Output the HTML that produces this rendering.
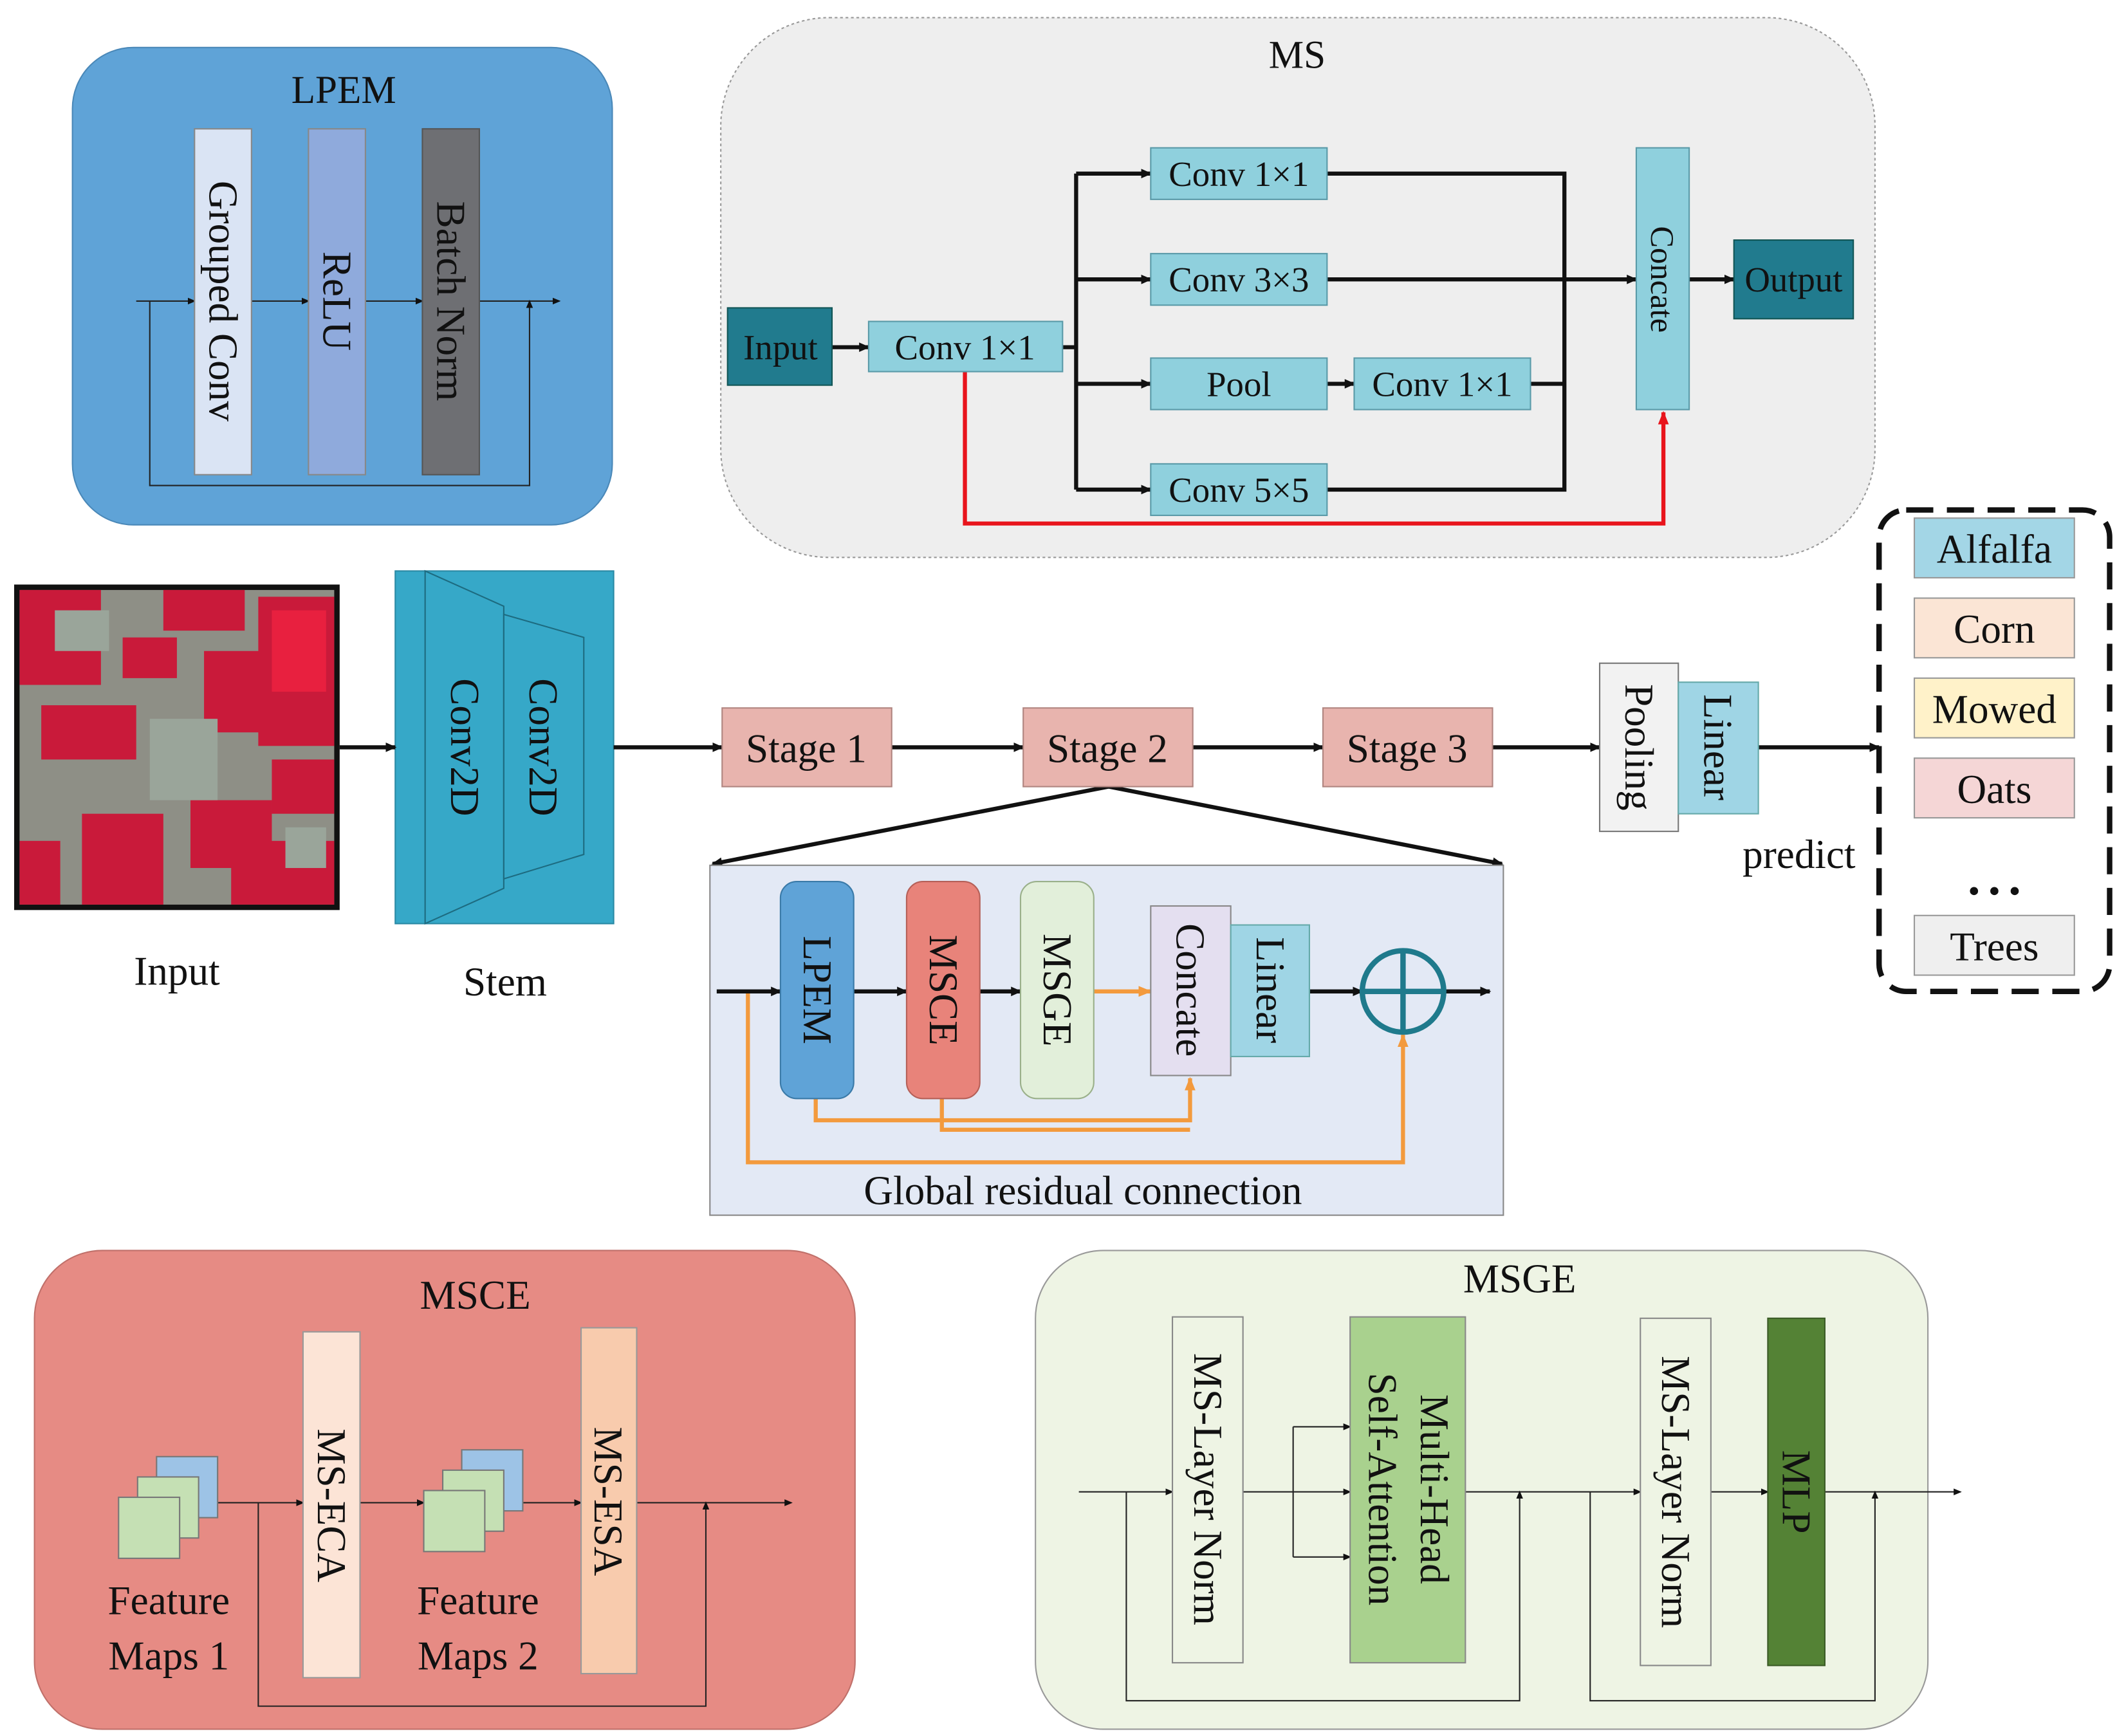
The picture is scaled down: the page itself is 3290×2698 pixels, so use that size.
<!DOCTYPE html>
<html><head><meta charset="utf-8"><style>
html,body{margin:0;padding:0;background:#fff}
svg{display:block}
text{font-family:"Liberation Serif",serif;fill:#111}
</style></head><body>
<svg width="3290" height="2698" viewBox="0 0 1560 1280" xmlns="http://www.w3.org/2000/svg">
<defs>
<marker id="a" markerWidth="8" markerHeight="8" refX="7" refY="4" orient="auto" markerUnits="userSpaceOnUse"><path d="M0,0.5 L8,4 L0,7.5z" fill="#111"/></marker>
<marker id="s" markerWidth="6" markerHeight="6" refX="5" refY="3" orient="auto" markerUnits="userSpaceOnUse"><path d="M0,0.5 L6,3 L0,5.5z" fill="#111"/></marker>
<marker id="r" markerWidth="10" markerHeight="10" refX="9" refY="5" orient="auto" markerUnits="userSpaceOnUse"><path d="M0,1 L10,5 L0,9z" fill="#e8141c"/></marker>
<marker id="o" markerWidth="10" markerHeight="10" refX="9" refY="5" orient="auto" markerUnits="userSpaceOnUse"><path d="M0,1 L10,5 L0,9z" fill="#f39a3d"/></marker>
<marker id="b" markerWidth="12" markerHeight="12" refX="11" refY="6" orient="auto" markerUnits="userSpaceOnUse"><path d="M0,1 L12,6 L0,11z" fill="#111"/></marker>
</defs>

<!-- LPEM -->
<rect x="53" y="35" width="398" height="352" rx="45" fill="#5fa3d7" stroke="#4a88b8"/>
<text x="253" y="76" font-size="29" text-anchor="middle">LPEM</text>
<path d="M100,222 H143" stroke="#222" stroke-width="1" marker-end="url(#s)"/>
<path d="M185,222 H227" stroke="#222" stroke-width="1" marker-end="url(#s)"/>
<path d="M269,222 H311" stroke="#222" stroke-width="1" marker-end="url(#s)"/>
<path d="M353,222 H412" stroke="#222" stroke-width="1" marker-end="url(#s)"/>
<path d="M110,222 V358 H390 V222" stroke="#222" stroke-width="1" fill="none" marker-end="url(#s)"/>
<rect x="143" y="95" width="42" height="255" fill="#dae4f4" stroke="#888"/>
<rect x="227" y="95" width="42" height="255" fill="#8faadc" stroke="#888"/>
<rect x="311" y="95" width="42" height="255" fill="#6e6f73" stroke="#555"/>
<text transform="rotate(90 164 222)" x="164" y="222" font-size="30" text-anchor="middle" dominant-baseline="central">Grouped Conv</text>
<text transform="rotate(90 248 222)" x="248" y="222" font-size="30" text-anchor="middle" dominant-baseline="central">ReLU</text>
<text transform="rotate(90 332 222)" x="332" y="222" font-size="30" text-anchor="middle" dominant-baseline="central">Batch Norm</text>

<!-- MS -->
<rect x="531" y="13" width="851" height="398" rx="80" fill="#eeeeee" stroke="#999" stroke-dasharray="2,2"/>
<text x="956" y="50" font-size="29" text-anchor="middle">MS</text>
<g stroke="#111" stroke-width="3" fill="none">
<path d="M613,256 H640" marker-end="url(#a)"/>
<path d="M783,256 H793"/>
<path d="M793,128 V361"/>
<path d="M793,128 H848" marker-end="url(#a)"/>
<path d="M793,206 H848" marker-end="url(#a)"/>
<path d="M793,283 H848" marker-end="url(#a)"/>
<path d="M793,361 H848" marker-end="url(#a)"/>
<path d="M978,283 H998" marker-end="url(#a)"/>
<path d="M978,128 H1153 V361 H978"/>
<path d="M1128,283 H1153"/>
<path d="M978,206 H1206" marker-end="url(#a)"/>
<path d="M1245,206 H1278" marker-end="url(#a)"/>
</g>
<path d="M711,274 V386 H1226 V304" stroke="#e8141c" stroke-width="3" fill="none" marker-end="url(#r)"/>
<rect x="536" y="227" width="77" height="57" fill="#217b8e" stroke="#155"/>
<text x="575" y="265" font-size="26" text-anchor="middle">Input</text>
<g fill="#8fd0dd" stroke="#5a9aa8">
<rect x="640" y="237" width="143" height="37"/>
<rect x="848" y="109" width="130" height="38"/>
<rect x="848" y="187" width="130" height="38"/>
<rect x="848" y="264" width="130" height="38"/>
<rect x="998" y="264" width="130" height="38"/>
<rect x="848" y="342" width="130" height="38"/>
<rect x="1206" y="109" width="39" height="193"/>
</g>
<g font-size="26" text-anchor="middle">
<text x="711" y="265">Conv 1×1</text>
<text x="913" y="137">Conv 1×1</text>
<text x="913" y="215">Conv 3×3</text>
<text x="913" y="292">Pool</text>
<text x="1063" y="292">Conv 1×1</text>
<text x="913" y="370">Conv 5×5</text>
</g>
<text transform="rotate(90 1225 206)" x="1225" y="206" font-size="24" text-anchor="middle" dominant-baseline="central">Concate</text>
<rect x="1278" y="177" width="88" height="58" fill="#217b8e" stroke="#155"/>
<text x="1322" y="215" font-size="26" text-anchor="middle">Output</text>

<!-- Input image -->
<rect x="10" y="431" width="240" height="240" fill="#111"/>
<rect x="14" y="435" width="232" height="232" fill="#8e8f86"/>
<g fill="#c91a3a">
<rect x="14" y="435" width="60" height="70"/><rect x="120" y="435" width="60" height="30"/>
<rect x="190" y="440" width="56" height="110"/><rect x="150" y="480" width="50" height="60"/>
<rect x="30" y="520" width="70" height="40"/><rect x="60" y="600" width="60" height="67"/>
<rect x="140" y="590" width="60" height="50"/><rect x="200" y="560" width="46" height="40"/>
<rect x="14" y="620" width="30" height="47"/><rect x="170" y="620" width="76" height="47"/>
<rect x="90" y="470" width="40" height="30"/>
</g>
<g fill="#9aa59a"><rect x="40" y="450" width="40" height="30"/><rect x="110" y="530" width="50" height="60"/><rect x="210" y="610" width="30" height="30"/></g>
<rect x="200" y="450" width="40" height="60" fill="#e8203f"/>
<text x="130" y="726" font-size="30" text-anchor="middle">Input</text>

<!-- Stem -->
<rect x="291" y="421" width="161" height="260" fill="#36a8c8" stroke="#2a8aa5"/>
<polygon points="313,421 371,447 371,655 313,681" fill="#36a8c8" stroke="#1d6b80" stroke-width="1"/>
<polygon points="371,453 430,470 430,630 371,648" fill="#36a8c8" stroke="#1d6b80" stroke-width="1"/>
<text transform="rotate(90 342 551)" x="342" y="551" font-size="30" text-anchor="middle" dominant-baseline="central">Conv2D</text>
<text transform="rotate(90 400 551)" x="400" y="551" font-size="30" text-anchor="middle" dominant-baseline="central">Conv2D</text>
<text x="372" y="734" font-size="30" text-anchor="middle">Stem</text>

<!-- main flow -->
<g stroke="#111" stroke-width="3" fill="none">
<path d="M250,551 H291" marker-end="url(#a)"/>
<path d="M452,551 H532" marker-end="url(#a)"/>
<path d="M657,551 H754" marker-end="url(#a)"/>
<path d="M879,551 H975" marker-end="url(#a)"/>
<path d="M1100,551 H1179" marker-end="url(#a)"/>
<path d="M1296,551 H1385" marker-end="url(#a)"/>
<path d="M817,580 L525,637" marker-end="url(#a)"/>
<path d="M817,580 L1107,637" marker-end="url(#a)"/>
</g>
<g fill="#e8b4ae" stroke="#b08580">
<rect x="532" y="522" width="125" height="58"/>
<rect x="754" y="522" width="125" height="58"/>
<rect x="975" y="522" width="125" height="58"/>
</g>
<g font-size="30" text-anchor="middle">
<text x="594" y="562">Stage 1</text><text x="816" y="562">Stage 2</text><text x="1037" y="562">Stage 3</text>
</g>
<rect x="1179" y="489" width="58" height="124" fill="#f2f2f2" stroke="#777"/>
<rect x="1237" y="503" width="59" height="97" fill="#9fd5e5" stroke="#6aa"/>
<text transform="rotate(90 1208 551)" x="1208" y="551" font-size="30" text-anchor="middle" dominant-baseline="central">Pooling</text>
<text transform="rotate(90 1266 551)" x="1266" y="551" font-size="30" text-anchor="middle" dominant-baseline="central">Linear</text>
<text x="1326" y="640" font-size="30" text-anchor="middle">predict</text>

<!-- classes -->
<rect x="1385" y="376" width="170" height="355" rx="20" fill="none" stroke="#111" stroke-width="4" stroke-dasharray="20,10"/>
<g stroke="#999">
<rect x="1411" y="382" width="118" height="44" fill="#a3d6e6"/>
<rect x="1411" y="441" width="118" height="44" fill="#fbe5d5"/>
<rect x="1411" y="500" width="118" height="44" fill="#fff2c9"/>
<rect x="1411" y="559" width="118" height="44" fill="#f5d6d6"/>
<rect x="1411" y="675" width="118" height="44" fill="#efefef"/>
</g>
<g font-size="30" text-anchor="middle">
<text x="1470" y="415">Alfalfa</text><text x="1470" y="474">Corn</text><text x="1470" y="533">Mowed</text>
<text x="1470" y="592">Oats</text><text x="1470" y="708">Trees</text>
</g>
<g fill="#111"><circle cx="1455" cy="657" r="3"/><circle cx="1470" cy="657" r="3"/><circle cx="1485" cy="657" r="3"/></g>

<!-- Stage detail -->
<rect x="523" y="638" width="585" height="258" fill="#e3e9f5" stroke="#888"/>
<g stroke="#f39a3d" stroke-width="3" fill="none">
<path d="M551,731 V857 H1034 V763" marker-end="url(#o)"/>
<path d="M601,810 V826 H877 V795" marker-end="url(#o)"/>
<path d="M694,810 V833 H877"/>
<path d="M806,731 H848" marker-end="url(#o)"/>
</g>
<g stroke="#111" stroke-width="3" fill="none">
<path d="M528,731 H575" marker-end="url(#a)"/>
<path d="M629,731 H668" marker-end="url(#a)"/>
<path d="M722,731 H752" marker-end="url(#a)"/>
<path d="M965,731 H1004" marker-end="url(#a)"/>
<path d="M1064,731 H1098" marker-end="url(#a)"/>
</g>
<rect x="575" y="650" width="54" height="160" rx="12" fill="#5fa3d7" stroke="#3a7aa8"/>
<rect x="668" y="650" width="54" height="160" rx="12" fill="#e8837a" stroke="#b56058"/>
<rect x="752" y="650" width="54" height="160" rx="12" fill="#e2efda" stroke="#9ab08a"/>
<rect x="848" y="668" width="59" height="125" fill="#e4dff0" stroke="#888"/>
<rect x="907" y="682" width="58" height="97" fill="#9fd5e5" stroke="#6aa"/>
<text transform="rotate(90 602 730)" x="602" y="730" font-size="30" text-anchor="middle" dominant-baseline="central">LPEM</text>
<text transform="rotate(90 695 730)" x="695" y="730" font-size="30" text-anchor="middle" dominant-baseline="central">MSCE</text>
<text transform="rotate(90 779 730)" x="779" y="730" font-size="30" text-anchor="middle" dominant-baseline="central">MSGE</text>
<text transform="rotate(90 877 730)" x="877" y="730" font-size="30" text-anchor="middle" dominant-baseline="central">Concate</text>
<text transform="rotate(90 936 730)" x="936" y="730" font-size="30" text-anchor="middle" dominant-baseline="central">Linear</text>
<circle cx="1034" cy="731" r="30" fill="none" stroke="#1f7a8c" stroke-width="4"/>
<path d="M1004,731 H1064 M1034,701 V761" stroke="#1f7a8c" stroke-width="4"/>
<text x="798" y="888" font-size="30" text-anchor="middle">Global residual connection</text>

<!-- MSCE -->
<rect x="25" y="922" width="605" height="353" rx="50" fill="#e68b84" stroke="#c0706a"/>
<text x="350" y="965" font-size="30" text-anchor="middle">MSCE</text>
<g stroke="#222" stroke-width="1" fill="none">
<path d="M160,1108 H223" marker-end="url(#s)"/>
<path d="M265,1108 H312" marker-end="url(#s)"/>
<path d="M385,1108 H428" marker-end="url(#s)"/>
<path d="M469,1108 H583" marker-end="url(#s)"/>
<path d="M190,1108 V1258 H520 V1108" marker-end="url(#s)"/>
</g>
<g stroke="#777">
<rect x="115" y="1074" width="45" height="45" fill="#9dc3e6"/>
<rect x="101" y="1089" width="45" height="45" fill="#c5e0b4"/>
<rect x="87" y="1104" width="45" height="45" fill="#c5e0b4"/>
<rect x="340" y="1069" width="45" height="45" fill="#9dc3e6"/>
<rect x="326" y="1084" width="45" height="45" fill="#c5e0b4"/>
<rect x="312" y="1099" width="45" height="45" fill="#c5e0b4"/>
</g>
<rect x="223" y="982" width="42" height="255" fill="#fce4d6" stroke="#999"/>
<rect x="428" y="979" width="41" height="255" fill="#f8cbad" stroke="#999"/>
<text transform="rotate(90 244 1110)" x="244" y="1110" font-size="30" text-anchor="middle" dominant-baseline="central">MS-ECA</text>
<text transform="rotate(90 448 1107)" x="448" y="1107" font-size="30" text-anchor="middle" dominant-baseline="central">MS-ESA</text>
<g font-size="30" text-anchor="middle">
<text x="124" y="1190">Feature</text><text x="124" y="1231">Maps 1</text>
<text x="352" y="1190">Feature</text><text x="352" y="1231">Maps 2</text>
</g>

<!-- MSGE -->
<rect x="763" y="922" width="658" height="353" rx="50" fill="#eef4e4" stroke="#999"/>
<text x="1120" y="953" font-size="30" text-anchor="middle">MSGE</text>
<g stroke="#222" stroke-width="1" fill="none">
<path d="M795,1100 H864" marker-end="url(#s)"/>
<path d="M916,1100 H995" marker-end="url(#s)"/>
<path d="M953,1052 V1148"/>
<path d="M953,1052 H995" marker-end="url(#s)"/>
<path d="M953,1148 H995" marker-end="url(#s)"/>
<path d="M1080,1100 H1209" marker-end="url(#s)"/>
<path d="M1261,1100 H1303" marker-end="url(#s)"/>
<path d="M1345,1100 H1445" marker-end="url(#s)"/>
<path d="M830,1100 V1254 H1120 V1100" marker-end="url(#s)"/>
<path d="M1172,1100 V1254 H1382 V1100" marker-end="url(#s)"/>
</g>
<rect x="864" y="971" width="52" height="255" fill="#eef4e4" stroke="#888"/>
<rect x="995" y="971" width="85" height="255" fill="#a9d18e" stroke="#888"/>
<rect x="1209" y="972" width="52" height="256" fill="#eef4e4" stroke="#888"/>
<rect x="1303" y="972" width="42" height="256" fill="#548235" stroke="#3a5a25"/>
<text transform="rotate(90 890 1098)" x="890" y="1098" font-size="30" text-anchor="middle" dominant-baseline="central">MS-Layer Norm</text>
<text transform="rotate(90 1037 1098)" x="1037" y="1098" font-size="30" text-anchor="middle"><tspan x="1037" dy="-10">Multi-Head</tspan><tspan x="1037" dy="38">Self-Attention</tspan></text>
<text transform="rotate(90 1235 1100)" x="1235" y="1100" font-size="30" text-anchor="middle" dominant-baseline="central">MS-Layer Norm</text>
<text transform="rotate(90 1324 1100)" x="1324" y="1100" font-size="30" text-anchor="middle" dominant-baseline="central">MLP</text>
</svg>
</body></html>
